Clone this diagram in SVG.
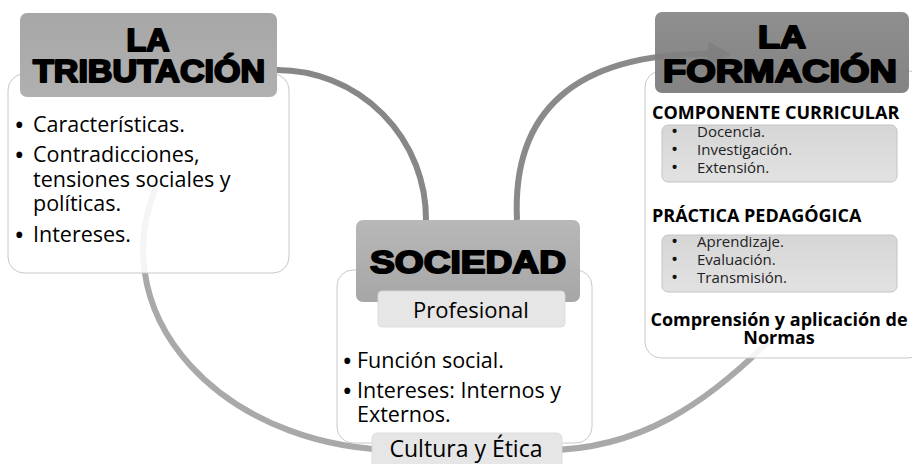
<svg xmlns="http://www.w3.org/2000/svg" width="912" height="464" viewBox="0 0 912 464">
<defs>
<linearGradient id="gTrib" x1="0" y1="0" x2="0" y2="1"><stop offset="0" stop-color="#a7a7a7"/><stop offset="1" stop-color="#b0b0b0"/></linearGradient>
<linearGradient id="gSoc" x1="0" y1="0" x2="0" y2="1"><stop offset="0" stop-color="#b8b8b8"/><stop offset="1" stop-color="#a6a6a6"/></linearGradient>
<linearGradient id="gForm" x1="0" y1="0" x2="0" y2="1"><stop offset="0" stop-color="#868686"/><stop offset="1" stop-color="#7a7a7a"/></linearGradient>
<linearGradient id="gList" x1="0" y1="0" x2="0" y2="1"><stop offset="0" stop-color="#d6d6d6"/><stop offset="1" stop-color="#e2e2e2"/></linearGradient>
<marker id="arrow" viewBox="0 0 10 10" refX="6" refY="5" markerWidth="4" markerHeight="4" orient="auto" markerUnits="strokeWidth">
<path d="M0,0 L10,5 L0,10 z" fill="#7f7f7f"/>
</marker>
</defs>
<style>
.arc{fill:none;stroke-width:6;stroke-linecap:butt}
.body{fill:#ffffff;fill-opacity:0.88;stroke:#c8c8c8;stroke-width:1}
.head{font-family:"Liberation Sans",Arial,sans-serif;font-weight:bold;fill:#000;stroke:#000;stroke-width:2;stroke-linejoin:round;text-anchor:middle}
.txt{font-family:"Open Sans","Noto Sans","Liberation Sans",sans-serif;fill:#000}
.big{font-size:21.5px}
.bul{font-family:"Open Sans","Noto Sans","Liberation Sans",sans-serif;fill:#000;font-size:28px}
.sbul{font-family:"Open Sans","Noto Sans","Liberation Sans",sans-serif;fill:#111;font-size:19px}
.sm{font-size:15px;fill:#222}
.bold{font-family:"Open Sans","Noto Sans","Liberation Sans",sans-serif;font-weight:bold;font-size:18px;fill:#000}
.tab{fill:#e6e6e6;stroke:#d8d8d8;stroke-width:0.8}
.list{fill:url(#gList);stroke:#c4c4c4;stroke-width:1}
</style>
<rect width="912" height="464" fill="#ffffff"/>

<g id="connectors">
<path class="arc" d="M277,70 A149,149 0 0 1 426,220" stroke="#878787"/>
<path class="arc" d="M517,220 C512,115 570,50 722,54" stroke="#8a8a8a" marker-end="url(#arrow)"/>
<path class="arc" d="M158,183 A257,200 0 0 0 400,450" stroke="#a9a9a9"/>
<path class="arc" d="M540,450 C640,452 710,400 770,340" stroke="#a9a9a9"/>
</g>

<g id="node-tributacion">
<rect class="body" x="8" y="74" width="281" height="199" rx="16"/>
<rect x="20" y="13" width="257" height="84" rx="7" fill="url(#gTrib)"/>
<text class="head" x="148" y="51" font-size="31" textLength="43" lengthAdjust="spacingAndGlyphs">LA</text>
<text class="head" x="149" y="82" font-size="31" textLength="232" lengthAdjust="spacingAndGlyphs">TRIBUTACIÓN</text>
<text class="bul" x="14" y="135">•</text><text class="txt big" x="33" y="132">Características.</text>
<text class="bul" x="14" y="165">•</text><text class="txt big" x="33" y="162">Contradicciones,</text>
<text class="txt big" x="33" y="187">tensiones sociales y</text>
<text class="txt big" x="33" y="211">políticas.</text>
<text class="bul" x="14" y="245">•</text><text class="txt big" x="33" y="242">Intereses.</text>
</g>

<g id="node-sociedad">
<rect class="body" x="337" y="270" width="255" height="173" rx="16"/>
<rect x="356" y="220" width="224" height="82" rx="7" fill="url(#gSoc)"/>
<text class="head" x="468" y="273" font-size="32" textLength="196" lengthAdjust="spacingAndGlyphs">SOCIEDAD</text>
<rect class="tab" x="378" y="291" width="187" height="36" rx="4"/>
<text class="txt" x="471" y="318" font-size="22" text-anchor="middle">Profesional</text>
<text class="bul" x="342" y="371">•</text><text class="txt big" x="357" y="368">Función social.</text>
<text class="bul" x="342" y="401">•</text><text class="txt big" x="357" y="398">Intereses: Internos y</text>
<text class="txt big" x="357" y="422">Externos.</text>
</g>

<g id="node-cultura">
<rect class="tab" x="372" y="433" width="190" height="40" rx="5"/>
<text class="txt" x="466" y="457" font-size="23" text-anchor="middle">Cultura y Ética</text>
</g>

<g id="node-formacion">
<rect class="body" x="645" y="71" width="280" height="287" rx="16"/>
<rect x="655" y="12" width="254" height="81" rx="7" fill="url(#gForm)" fill-opacity="0.93"/>
<text class="head" x="782" y="48" font-size="31" textLength="48" lengthAdjust="spacingAndGlyphs">LA</text>
<text class="head" x="780" y="82" font-size="31" textLength="234" lengthAdjust="spacingAndGlyphs">FORMACIÓN</text>
<text class="bold" x="652" y="119">COMPONENTE CURRICULAR</text>
<rect class="list" x="662" y="125" width="235" height="57" rx="6"/>
<text class="sbul" x="671" y="138">•</text><text class="txt sm" x="697" y="137">Docencia.</text>
<text class="sbul" x="671" y="156">•</text><text class="txt sm" x="697" y="155">Investigación.</text>
<text class="sbul" x="671" y="174">•</text><text class="txt sm" x="697" y="173">Extensión.</text>
<text class="bold" x="652" y="222">PRÁCTICA PEDAGÓGICA</text>
<rect class="list" x="662" y="235" width="235" height="57" rx="6"/>
<text class="sbul" x="671" y="248">•</text><text class="txt sm" x="697" y="247">Aprendizaje.</text>
<text class="sbul" x="671" y="266">•</text><text class="txt sm" x="697" y="265">Evaluación.</text>
<text class="sbul" x="671" y="284">•</text><text class="txt sm" x="697" y="283">Transmisión.</text>
<text class="bold" x="779" y="326" text-anchor="middle" font-size="17.5">Comprensión y aplicación de</text>
<text class="bold" x="779" y="344" text-anchor="middle" font-size="17.5">Normas</text>
</g>
</svg>
